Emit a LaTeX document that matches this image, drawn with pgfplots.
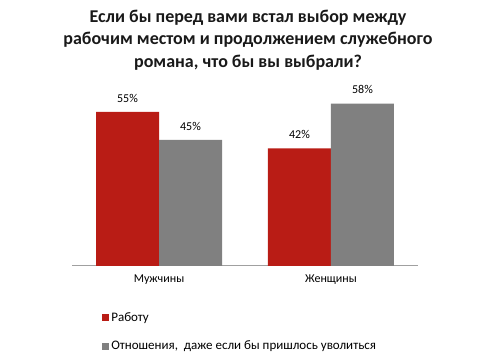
\documentclass[border=0pt]{standalone}
\usepackage{fontspec}
\setmainfont{Carlito}
\usepackage{pgfplots}
\pgfplotsset{compat=1.18}
\definecolor{cred}{RGB}{185,28,21}
\definecolor{cgray}{RGB}{128,128,128}
\definecolor{caxis}{RGB}{160,160,160}
\begin{document}
\begin{tikzpicture}[x=1pt,y=1pt]
\useasboundingbox (0,0) rectangle (496,363);
\node[align=center, font=\bfseries\fontsize{18}{22.5}\selectfont, color=black!90] at (248,323) {Если бы перед вами встал выбор между\\рабочим местом и продолжением служебного\\романа, что бы вы выбрали?};
\begin{axis}[
  at={(72pt,97pt)}, anchor=south west,
  scale only axis, width=346pt, height=196pt,
  ymin=0, ymax=70, xmin=-0.506, xmax=1.506,
  axis x line*=bottom, axis y line=none,
  x axis line style={caxis, line width=1pt, -},
  xtick={0,1}, xticklabels={Мужчины,Женщины},
  major tick length=0pt,
  xticklabel style={font=\fontsize{12}{14}\selectfont, yshift=-5pt},
  ybar, bar width=63pt,
  /pgf/number format/assume math mode=true,
  nodes near coords={\pgfmathprintnumber{\pgfplotspointmeta}\%},
  every node near coord/.append style={font=\fontsize{12}{14}\selectfont, yshift=6pt},
  legend style={draw=none, fill=none, inner sep=0pt, anchor=north west,
    at={(rel axis cs:0.087,-0.226)}, row sep=14pt,
    font=\fontsize{13}{15}\selectfont},
  legend cell align=left,
  legend image code/.code={\fill[#1] (0pt,-3.5pt) rectangle (7pt,3.5pt);},
]
\addplot[fill=cred, draw=none, bar shift=-31.5pt] coordinates {(0,55) (1,42)};
\addplot[fill=cgray, draw=none, bar shift=31.5pt] coordinates {(0,45) (1,58)};
\legend{Работу,{Отношения,\ \ даже если бы пришлось уволиться}}
\end{axis}
\end{tikzpicture}
\end{document}
